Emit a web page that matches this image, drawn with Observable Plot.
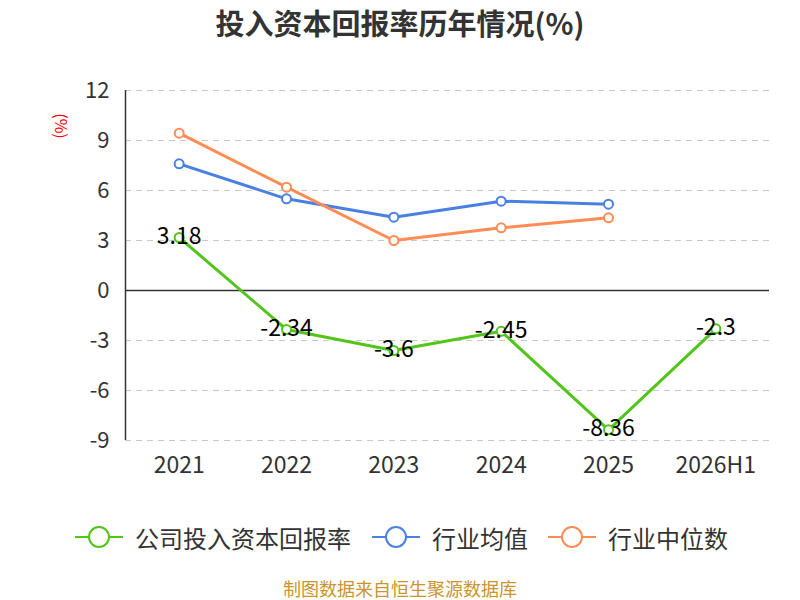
<!DOCTYPE html>
<html>
<head>
<meta charset="utf-8">
<script src="https://cdn.jsdelivr.net/npm/d3@7"></script>
<script src="https://cdn.jsdelivr.net/npm/@observablehq/plot@0.6"></script>
<style>
  body { margin: 0; background: #fff; font-family: "Noto Sans CJK SC", "Noto Sans", sans-serif; }
  #wrap { position: relative; width: 800px; height: 600px; overflow: hidden; }
  #title { position: absolute; top: 0px; left: 0; width: 800px; text-align: center; font-size: 29px; line-height: 44px; font-weight: bold; color: #333; }
  #chart { position: absolute; top: 50px; left: 0; }
  #legend { position: absolute; top: 519px; left: 0; width: 800px; height: 40px; }
  .item { position: absolute; top: 0; display: flex; align-items: center; font-size: 24px; color: #333; height: 36px; }
  .item svg { margin-right: 12px; }
  #caption { position: absolute; top: 577px; left: 0; width: 800px; text-align: center; font-size: 18px; line-height: 22px; color: #c9952c; }
</style>
</head>
<body>
<div id="wrap">
  <div id="title">投入资本回报率历年情况(%)</div>
  <div id="chart"></div>
  <div id="legend"></div>
  <div id="caption">制图数据来自恒生聚源数据库</div>
</div>
<script>
const categories = ["2021", "2022", "2023", "2024", "2025", "2026H1"];
const companyROIC = [3.18, -2.34, -3.6, -2.45, -8.36, -2.3];
const industryAvg = [7.6, 5.5, 4.4, 5.36, 5.18, null];
const industryMedian = [9.44, 6.2, 3.0, 3.76, 4.36, null];
const yTicks = [-9, -6, -3, 0, 3, 6, 9, 12];
const seriesNames = ["公司投入资本回报率", "行业均值", "行业中位数"];
const seriesColors = ["#52c41a", "#4a80e2", "#ff8c55"];

const seriesValues = [companyROIC, industryAvg, industryMedian];
const rows = [];
seriesValues.forEach((vals, s) => vals.forEach((v, i) => {
  if (v != null) rows.push({series: seriesNames[s], i, value: v});
}));
const companyRows = rows.filter(d => d.series === seriesNames[0]);
const boundaries = d3.range(categories.length + 1).map(k => k - 0.5);

const chart = Plot.plot({
  width: 800,
  height: 440,
  marginTop: 40,
  marginBottom: 50,
  marginLeft: 125,
  marginRight: 31,
  style: {fontFamily: "'Noto Sans CJK SC', 'Noto Sans', sans-serif", background: "transparent"},
  x: {type: "linear", domain: [-0.5, categories.length - 0.5], axis: null},
  y: {domain: [-9, 12], axis: null},
  color: {domain: seriesNames, range: seriesColors},
  marks: [
    Plot.ruleY(yTicks.filter(t => t !== 0), {y: d => d, stroke: "#c8c8c8", strokeWidth: 1.2, strokeDasharray: "6,5"}),
    Plot.ruleY([0], {stroke: "#333", strokeWidth: 1.5}),
    Plot.ruleX(boundaries, {x: d => d, y1: 0, y2: 0, stroke: "#333", strokeWidth: 1.5, ariaLabel: "xticks"}),
    Plot.ruleX([-0.5], {stroke: "#333", strokeWidth: 1.5}),
    Plot.ruleY(yTicks, {y: d => d, x1: -0.5, x2: -0.5, stroke: "#333", strokeWidth: 1.5, ariaLabel: "yticks"}),
    Plot.text(yTicks, {y: d => d, x: -0.5, dx: -16, text: d => String(d), textAnchor: "end", fontSize: 22, fill: "#333"}),
    Plot.text(categories, {x: (d, i) => i, frameAnchor: "bottom", dy: 25, text: d => d, fontSize: 23, fill: "#333", lineAnchor: "middle"}),
    Plot.line(rows, {x: "i", y: "value", z: "series", stroke: "series", strokeWidth: 3}),
    Plot.dot(rows, {x: "i", y: "value", stroke: "series", fill: "white", r: 4.5, strokeWidth: 2}),
    Plot.text(companyRows, {x: "i", y: "value", dy: -1, text: d => String(d.value), fontSize: 23, fill: "#000"})
  ]
});
document.getElementById("chart").appendChild(chart);

const ys = chart.scale("y");
const xs = chart.scale("x");
const y0 = ys.apply(0);
d3.select(chart).selectAll("g[aria-label='xticks'] line").each(function() {
  d3.select(this).attr("y1", y0).attr("y2", y0 + 9);
});
const xLeft = xs.apply(-0.5);
d3.select(chart).selectAll("g[aria-label='yticks'] line").each(function() {
  d3.select(this).attr("x1", xLeft - 10).attr("x2", xLeft);
});

// y-axis label
d3.select(chart).append("text")
  .attr("transform", `translate(62, 76) rotate(90)`)
  .attr("text-anchor", "middle")
  .attr("dominant-baseline", "central")
  .attr("fill", "#ff0000")
  .attr("font-size", 16)
  .text("(%)");

// legend
const legend = document.getElementById("legend");
const lefts = [75, 372, 548];
seriesNames.forEach((name, k) => {
  const item = document.createElement("div");
  item.className = "item";
  item.style.left = lefts[k] + "px";
  item.innerHTML = `<svg width="48" height="36"><line x1="0" y1="18" x2="48" y2="18" stroke="${seriesColors[k]}" stroke-width="2"/><circle cx="24" cy="18" r="10" fill="white" stroke="${seriesColors[k]}" stroke-width="2"/></svg><span>${name}</span>`;
  legend.appendChild(item);
});
</script>
</body>
</html>
